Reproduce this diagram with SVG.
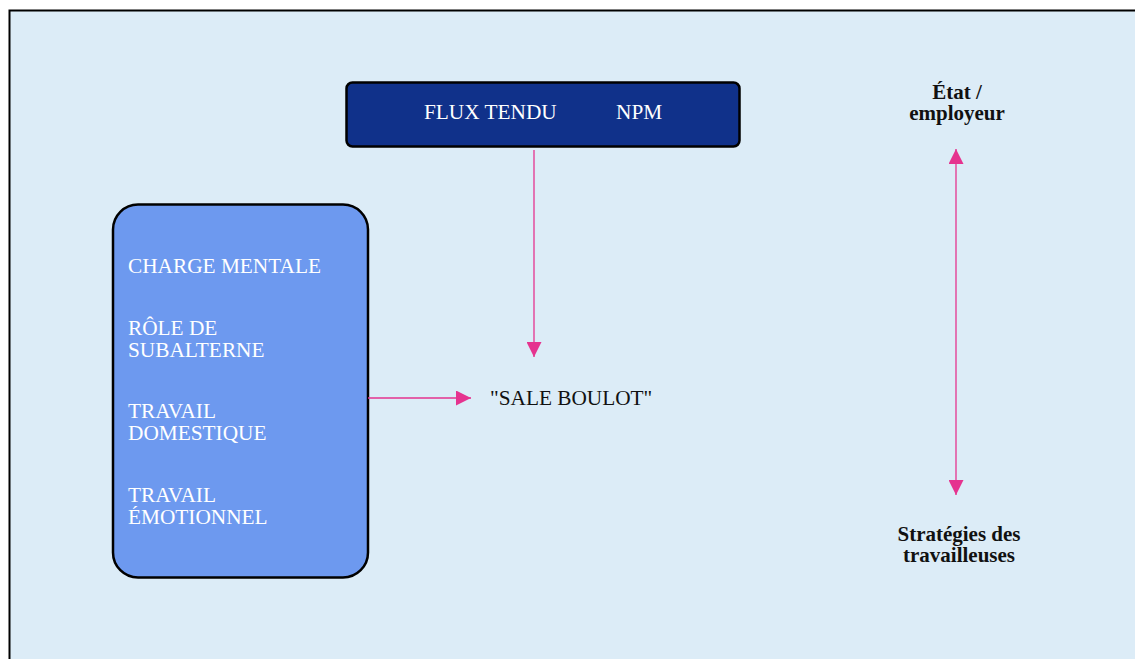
<svg xmlns="http://www.w3.org/2000/svg" width="1135" height="659" viewBox="0 0 1135 659">
  <style>
    .lbl { font-family: "Liberation Serif", "Times New Roman", serif; font-size: 21.3px; fill: #ffffff; }
    .dark { font-family: "Liberation Serif", "Times New Roman", serif; font-size: 21.3px; fill: #111111; }
    .bold { font-family: "Liberation Serif", "Times New Roman", serif; font-size: 21px; font-weight: bold; fill: #111111; text-anchor: middle; }
    .link { stroke: #e5338f; stroke-width: 1.3; fill: none; }
  </style>
  <defs>
    <marker id="tip" viewBox="0 0 10 10" refX="10" refY="5" markerWidth="15" markerHeight="15" markerUnits="userSpaceOnUse" orient="auto-start-reverse">
      <path d="M0,0 L10,5 L0,10 Z" fill="#e5338f"/>
    </marker>
  </defs>

  <!-- page frame -->
  <rect x="9.5" y="10.5" width="1140" height="660" fill="#dcecf7" stroke="#000" stroke-width="2"/>

  <g id="node-flux">
    <rect x="346.5" y="82.5" width="393" height="64" rx="6" fill="#10318a" stroke="#000" stroke-width="2.5"/>
    <text class="lbl" x="424" y="119">FLUX TENDU</text>
    <text class="lbl" x="616" y="119">NPM</text>
  </g>

  <g id="node-charges">
    <rect x="113" y="204.5" width="255" height="373" rx="25" fill="#6d99ef" stroke="#000" stroke-width="2.5"/>
    <text class="lbl" x="128" y="273">CHARGE MENTALE</text>
    <text class="lbl" x="128" y="335">RÔLE DE</text>
    <text class="lbl" x="128" y="357">SUBALTERNE</text>
    <text class="lbl" x="128" y="418">TRAVAIL</text>
    <text class="lbl" x="128" y="440">DOMESTIQUE</text>
    <text class="lbl" x="128" y="502">TRAVAIL</text>
    <text class="lbl" x="128" y="524">ÉMOTIONNEL</text>
  </g>

  <g id="node-sale-boulot">
    <text class="dark" x="490" y="405">"SALE BOULOT"</text>
  </g>

  <g id="node-etat">
    <text class="bold" x="957" y="99">État /</text>
    <text class="bold" x="957" y="120">employeur</text>
  </g>

  <g id="node-strategies">
    <text class="bold" x="959" y="541">Stratégies des</text>
    <text class="bold" x="959" y="562">travailleuses</text>
  </g>

  <g id="connectors">
    <line class="link" x1="534" y1="150" x2="534" y2="357" marker-end="url(#tip)"/>
    <line class="link" x1="368" y1="398" x2="471" y2="398" marker-end="url(#tip)"/>
    <line class="link" x1="956" y1="149" x2="956" y2="495" marker-start="url(#tip)" marker-end="url(#tip)"/>
  </g>
</svg>
